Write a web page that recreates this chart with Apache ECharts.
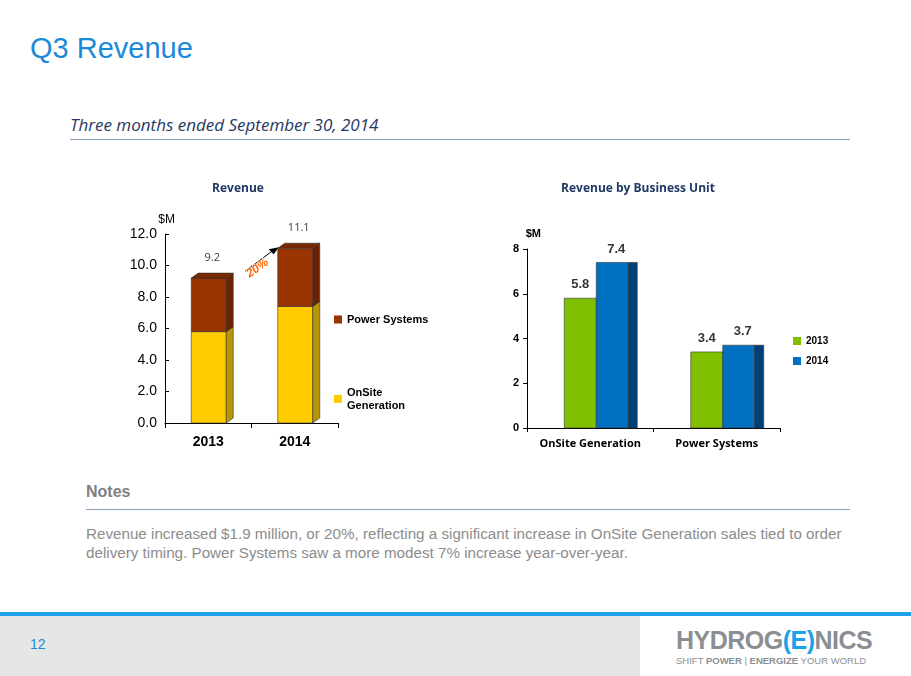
<!DOCTYPE html>
<html><head><meta charset="utf-8">
<script src="https://cdn.jsdelivr.net/npm/echarts@6/dist/echarts.min.js"></script>
<style>
body{margin:0;width:911px;height:676px;position:relative;background:#fff;font-family:"Liberation Sans",Arial,sans-serif;overflow:hidden}
.a{position:absolute;white-space:nowrap}
</style></head><body>
<div class="a" style="left:30px;top:32px;font-size:29px;color:#1a8ad8">Q3 Revenue</div>
<div class="a" style="left:70px;top:113px;font-size:17px;font-style:italic;color:#1f3864;font-family:'Open Sans','DejaVu Sans',sans-serif">Three months ended September 30, 2014</div>
<div class="a" style="left:70px;top:139px;width:780px;height:1px;background:#8aa0b8"></div>
<div class="a" style="left:86px;top:483px;font-size:16px;font-weight:bold;color:#7f7f7f">Notes</div>
<div class="a" style="left:86px;top:509px;width:764px;height:1px;background:#8aa0b8"></div>
<div class="a" style="left:86px;top:524px;font-size:15.2px;color:#8c8c8c;line-height:19px">Revenue increased $1.9 million, or 20%, reflecting a significant increase in OnSite Generation sales tied to order<br>delivery timing. Power Systems saw a more modest 7% increase year-over-year.</div>
<div class="a" style="left:0;top:612px;width:911px;height:4px;background:#1ba1e8"></div>
<div class="a" style="left:0;top:616px;width:640px;height:60px;background:#e6e6e6"></div>
<div class="a" style="left:30px;top:636px;font-size:14px;color:#1a8ad8">12</div>
<div class="a" style="left:676px;top:626px;font-size:25px;font-weight:bold;color:#8a8f94;letter-spacing:-0.5px">HYDROG<span style="color:#1ba1e8">(E)</span>NICS</div>
<div class="a" style="left:676px;top:655px;font-size:9.5px;color:#8a8f94">SHIFT <b>POWER</b> | <b>ENERGIZE</b> YOUR WORLD</div>
<div id="c1" class="a" style="left:100px;top:170px;width:360px;height:300px"></div>
<div id="c2" class="a" style="left:490px;top:170px;width:360px;height:300px"></div>
<script>
var years=['2013','2014'];
var onsite=[5.8,7.4];
var power=[3.4,3.7];
var totals=[9.2,11.1];
var units=['OnSite Generation','Power Systems'];
var v2013=[5.8,3.4];
var v2014=[7.4,3.7];

function box3d(front,side,top,w,offset,dx,dy){
  return function(params,api){
    var c=api.value(0),b=api.value(1),t=api.value(2);
    var p0=api.coord([c,b]),p1=api.coord([c,t]);
    var x=p0[0]+offset,y0=p0[1],y1=p1[1];
    var ch=[{type:'rect',shape:{x:x,y:y1,width:w,height:y0-y1},style:{fill:front,stroke:'#333',lineWidth:0.6}}];
    if(dx>0){
      ch.push({type:'polygon',shape:{points:[[x+w,y0],[x+w+dx,y0+dy],[x+w+dx,y1+dy],[x+w,y1]]},style:{fill:side,stroke:'#333',lineWidth:0.6}});
      if(top) ch.push({type:'polygon',shape:{points:[[x,y1],[x+dx,y1+dy],[x+w+dx,y1+dy],[x+w,y1]]},style:{fill:top,stroke:'#333',lineWidth:0.6}});
    }
    return {type:'group',children:ch};
  };
}
var c1=echarts.init(document.getElementById('c1'));
c1.setOption({
  animation:false,
  title:{text:'Revenue',left:133,top:8,textAlign:'center',textStyle:{fontSize:12,fontWeight:'bold',color:'#1f3864',fontFamily:'Open Sans'}},
  grid:{left:65,top:64,width:173,height:189},
  xAxis:{type:'category',data:years,axisTick:{show:true,interval:0,length:5,lineStyle:{color:'#000'}},axisLine:{lineStyle:{color:'#000'}},axisLabel:{fontSize:14,fontWeight:'bold',color:'#000',margin:12}},
  yAxis:{type:'value',min:0,max:12,interval:2,name:'$M',nameLocation:'end',nameGap:8,nameTextStyle:{align:'right',color:'#000',fontSize:12,padding:[0,-10,0,0]},axisLine:{show:true,lineStyle:{color:'#000'}},axisTick:{show:true,inside:true,length:4,lineStyle:{color:'#000'}},splitLine:{show:false},axisLabel:{fontSize:14,color:'#000',formatter:function(v){return v.toFixed(1);}}},
  legend:{orient:'vertical',left:229,top:138,itemGap:60,itemWidth:8,itemHeight:8,icon:'rect',textStyle:{fontSize:11,fontWeight:'bold',color:'#000',lineHeight:13},
    data:[{name:'Power Systems',itemStyle:{color:'#993300'}},{name:'OnSite\nGeneration',itemStyle:{color:'#FFCC00'}}]},
  series:[
    {name:'OnSite\nGeneration',type:'custom',renderItem:box3d('#FFCC00','#B8960A',null,35,-17,7,-5),
      data:years.map(function(y,i){return [i,0,onsite[i]];}),encode:{x:0,y:[1,2]}},
    {name:'Power Systems',type:'custom',renderItem:box3d('#993300','#6B2200','#7A2800',35,-17,7,-5),
      data:years.map(function(y,i){return [i,onsite[i],onsite[i]+power[i]];}),encode:{x:0,y:[1,2]}},
    {type:'scatter',symbolSize:0,data:years.map(function(y,i){return [i,totals[i]];}),
      label:{show:true,position:'top',fontSize:11,color:'#000',fontFamily:'Open Sans',formatter:function(p){return p.value[1].toFixed(1);},offset:[4,-10]}}
  ]
});
var a=c1.convertToPixel({xAxisIndex:0,yAxisIndex:0},[0,totals[0]]);
var b=c1.convertToPixel({xAxisIndex:0,yAxisIndex:0},[1,totals[1]]);
c1.setOption({graphic:[
  {type:'line',shape:{x1:a[0]+37,y1:a[1]-7,x2:b[0]-20,y2:b[1]+1},style:{stroke:'#000',lineWidth:1}},
  {type:'polygon',shape:{points:[[b[0]-16,b[1]-1],[b[0]-26,b[1]+1],[b[0]-21,b[1]+6]]},style:{fill:'#000'}},
  {type:'text',x:(a[0]+b[0])/2+6,y:(a[1]+b[1])/2+5,rotation:0.6,style:{text:'20%',fill:'#ff6600',font:'bold italic 12px "Liberation Sans"',align:'center',verticalAlign:'middle',stroke:'#fff',lineWidth:1}}
]});

var c2=echarts.init(document.getElementById('c2'));
c2.setOption({
  animation:false,
  title:{text:'Revenue by Business Unit',left:143,top:8,textAlign:'center',textStyle:{fontSize:12,fontWeight:'bold',color:'#1f3864',fontFamily:'Open Sans'}},
  grid:{left:37,top:79,width:253,height:179},
  xAxis:{type:'category',data:units,axisTick:{show:true,interval:0,length:4,lineStyle:{color:'#000'}},axisLine:{lineStyle:{color:'#000'}},axisLabel:{interval:0,fontSize:11,fontWeight:'bold',color:'#000',margin:10,fontFamily:'Open Sans'}},
  yAxis:{type:'value',min:0,max:8,interval:2,name:'$M',nameGap:10,nameTextStyle:{align:'right',color:'#000',fontSize:11,fontWeight:'bold',padding:[0,-14,0,0]},axisLine:{show:true,lineStyle:{color:'#000'}},axisTick:{show:true,length:4,lineStyle:{color:'#000'}},splitLine:{show:false},axisLabel:{fontSize:11,fontWeight:'bold',color:'#000'}},
  legend:{orient:'vertical',left:298,top:161,itemGap:10,itemWidth:8,itemHeight:8,icon:'rect',textStyle:{fontSize:10,fontWeight:'bold',color:'#000'},
    data:[{name:'2013',itemStyle:{color:'#80C000'}},{name:'2014',itemStyle:{color:'#0070C0'}}]},
  series:[
    {name:'2013',type:'custom',renderItem:box3d('#80C000','',null,32,-26,0,0),data:units.map(function(u,i){return [i,0,v2013[i]];}),encode:{x:0,y:[1,2]},itemStyle:{color:'#80C000'}},
    {name:'2014',type:'custom',renderItem:box3d('#0070C0','#003F7A',null,32,6,9,0),data:units.map(function(u,i){return [i,0,v2014[i]];}),encode:{x:0,y:[1,2]},itemStyle:{color:'#0070C0'}},
    {type:'scatter',symbolSize:0,data:units.map(function(u,i){return [i,v2013[i]];}),label:{show:true,position:'top',offset:[-10,-2],fontSize:13,fontWeight:'bold',color:'#000',formatter:function(p){return p.value[1].toFixed(1);}}},
    {type:'scatter',symbolSize:0,data:units.map(function(u,i){return [i,v2014[i]];}),label:{show:true,position:'top',offset:[26,-2],fontSize:13,fontWeight:'bold',color:'#000',formatter:function(p){return p.value[1].toFixed(1);}}}
  ]
});
</script></body></html>
